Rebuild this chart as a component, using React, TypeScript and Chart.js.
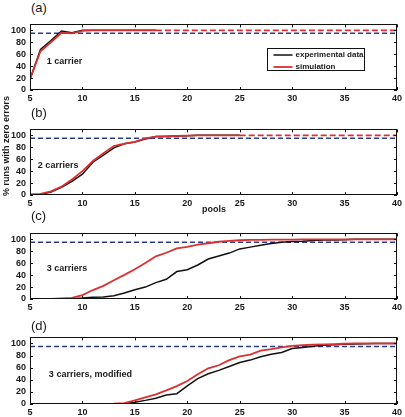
import React, { useEffect, useRef } from "react";
import { Chart, registerables } from "chart.js";
Chart.register(...registerables);

// ---------- data ----------
const pools = [5, 6, 7, 8, 9, 10, 11, 12, 13, 14, 15, 16, 17, 18, 19, 20, 21, 22, 23, 24, 25, 26, 27, 28, 29, 30, 31, 32, 33, 34, 35, 36, 37, 38, 39, 40];
const xTicks = [5, 10, 15, 20, 25, 30, 35, 40];
const yTicks = [0, 20, 40, 60, 80, 100];
const threshold = 95;
const legendLabels = ["experimental data", "simulation"];
const panelLetters = ["(a)", "(b)", "(c)", "(d)"];
const panelNotes = ["1 carrier", "2 carriers", "3 carriers", "3 carriers, modified"];
const yTitle = "% runs with zero errors";
const xTitle = "pools";

// (a) 1 carrier
const expA = [18, 68, 83, 99, 96, 100, 100, 100, 100, 100, 100, 100, 100];
const simA = [18, 65, 80, 96, 95, 99, 100, 100, 100, 100, 100, 100, 100, 100, 100, 100, 100, 100, 100, 100, 100, 100, 100, 100, 100, 100, 100, 100, 100, 100, 100, 100, 100, 100, 100, 100];
// (b) 2 carriers
const expB = [0, 1, 5, 13, 23, 35, 55, 67, 79, 86, 89, 94, 98, 98.5, 99, 99.5, 100, 100, 100, 100, 100];
const simB = [1, 2, 6, 14, 26, 40, 57, 70, 82, 86, 89, 95, 98, 98, 99, 99.5, 100, 100, 100, 100, 100, 100, 100, 100, 100, 100, 100, 100, 100, 100, 100, 100, 100, 100, 100, 100];
// (c) 3 carriers
const expC = [0, 0, 0, 0, 0.5, 1.5, 3, 3.5, 5.5, 10, 15.5, 20, 27.5, 33, 46, 49, 57, 67, 72, 77, 84, 87, 90, 93, 95, 96.5, 97, 98, 99, 99, 99.5, 100, 100, 100, 100, 100];
const simC = [0, 0, 0, 1, 2, 6.5, 15, 22, 31.5, 40.5, 50, 60.5, 71.5, 77.5, 85, 87.5, 91, 93.5, 96, 97.5, 98.5, 99, 99, 99.5, 99.5, 99.5, 100, 100, 100, 100, 100, 100, 100, 100, 100, 100];
// (d) 3 carriers, modified
const expD = [0, 0, 0, 0, 0, 0, 0, 0, 0, 0.5, 3, 6, 9.5, 15, 17, 30, 42, 50, 55.5, 62, 68.5, 72.5, 78, 82, 85, 91.5, 93.5, 95.5, 97, 98, 98.5, 99, 99.5, 100, 100, 100];
const simD = [0, 0, 0, 0, 0, 0, 0, 0, 0.5, 1.5, 6, 11, 16, 22.5, 29.5, 38, 49, 59, 64, 72.5, 78.5, 81.5, 88, 90.5, 93.5, 96, 97, 98, 98.5, 99, 99.5, 100, 100, 100, 100, 100];

// ---------- styles ----------
const RED = "#dc3030";
const BLACK = "#111111";
const BLUE = "#2b3c96";
const FONT = '"Liberation Sans", Arial, Helvetica, sans-serif';
const TXT = "#1a1a1a";

type PanelCfg = {
  idx: number;
  exp: number[];
  sim: number[];
  dashFrom: number | null;
  legend: boolean;
  noteX: number;
  noteY: number;
  plotTop: number;
  plotBottom: number;
};

const panels: PanelCfg[] = [
  { idx: 0, exp: expA, sim: simA, dashFrom: 17, legend: true, noteX: 6.6, noteY: 48.5, plotTop: 17, plotBottom: 90 },
  { idx: 1, exp: expB, sim: simB, dashFrom: 25, legend: false, noteX: 5.75, noteY: 49.5, plotTop: 122, plotBottom: 195 },
  { idx: 2, exp: expC, sim: simC, dashFrom: null, legend: false, noteX: 6.6, noteY: 51.5, plotTop: 226, plotBottom: 299 },
  { idx: 3, exp: expD, sim: simD, dashFrom: null, legend: false, noteX: 6.8, noteY: 49, plotTop: 330, plotBottom: 404 },
];

const PAD_TOP = 2;
const XAXIS_H = 14;

function framePlugin(cfg: PanelCfg) {
  return {
    id: "frame" + cfg.idx,
    afterDatasetsDraw(chart: any) {
      const { ctx, chartArea: a, scales } = chart;
      ctx.save();
      ctx.strokeStyle = BLACK;
      ctx.lineWidth = 1;
      ctx.setLineDash([]);
      ctx.strokeRect(Math.round(a.left) + 0.5, Math.round(a.top) + 0.5, Math.round(a.right - a.left) - 1, Math.round(a.bottom - a.top) - 1);
      const line = (x1: number, y1: number, x2: number, y2: number) => {
        ctx.beginPath();
        ctx.moveTo(x1, y1);
        ctx.lineTo(x2, y2);
        ctx.stroke();
      };
      xTicks.forEach((v) => {
        const px = Math.round(scales.x.getPixelForValue(v)) + 0.5;
        line(px, a.bottom, px, a.bottom - 3);
        line(px, a.top, px, a.top + 3);
      });
      yTicks.forEach((v) => {
        const py = Math.round(scales.y.getPixelForValue(v)) + 0.5;
        line(a.left, py, a.left + 3, py);
        line(a.right, py, a.right - 3, py);
      });
      // annotation
      ctx.font = "bold 9px " + FONT;
      ctx.fillStyle = TXT;
      ctx.textBaseline = "middle";
      ctx.textAlign = "left";
      ctx.fillText(panelNotes[cfg.idx], scales.x.getPixelForValue(cfg.noteX), scales.y.getPixelForValue(cfg.noteY));
      // legend
      if (cfg.legend) {
        const l = Math.round(scales.x.getPixelForValue(27.6)) + 0.5;
        const r = Math.round(scales.x.getPixelForValue(36.85)) + 0.5;
        const t = Math.round(scales.y.getPixelForValue(71)) + 0.5;
        const b = Math.round(scales.y.getPixelForValue(33)) + 0.5;
        ctx.fillStyle = "#ffffff";
        ctx.fillRect(l, t, r - l, b - t);
        ctx.strokeStyle = BLACK;
        ctx.lineWidth = 1;
        ctx.strokeRect(l, t, r - l, b - t);
        const items = [
          { label: legendLabels[0], color: BLACK, w: 1.5 },
          { label: legendLabels[1], color: RED, w: 1.8 },
        ];
        ctx.font = "bold 8px " + FONT;
        items.forEach((it, i) => {
          const y = t + 6.5 + i * 12;
          ctx.strokeStyle = it.color;
          ctx.lineWidth = it.w;
          line(l + 6, y, l + 25, y);
          ctx.fillStyle = TXT;
          ctx.fillText(it.label, l + 28, y);
        });
      }
      ctx.restore();
    },
  };
}

function Panel({ cfg }: { cfg: PanelCfg }) {
  const ref = useRef<HTMLCanvasElement>(null);
  const height = PAD_TOP + (cfg.plotBottom - cfg.plotTop) + XAXIS_H;
  useEffect(() => {
    const tickFont = { family: FONT, size: 9, weight: "bold" as const };
    const chart = new Chart(ref.current!, {
      type: "line",
      data: {
        datasets: [
          {
            label: legendLabels[1],
            data: cfg.sim.map((v, i) => ({ x: pools[i], y: v })),
            borderColor: RED,
            borderWidth: 1.8,
            pointRadius: 0,
            fill: false,
            order: 0,
            segment: {
              borderDash: (c: any) => (cfg.dashFrom !== null && c.p0.parsed.x >= cfg.dashFrom ? [6, 3] : undefined),
            },
          } as any,
          {
            label: legendLabels[0],
            data: cfg.exp.map((v, i) => ({ x: pools[i], y: v })),
            borderColor: BLACK,
            borderWidth: 1.5,
            pointRadius: 0,
            fill: false,
            order: 1,
          },
          {
            label: "threshold",
            data: [
              { x: pools[0], y: threshold },
              { x: pools[pools.length - 1], y: threshold },
            ],
            borderColor: BLUE,
            borderWidth: 1.5,
            borderDash: [5, 3],
            pointRadius: 0,
            fill: false,
            order: 2,
          },
        ],
      },
      options: {
        responsive: false,
        animation: false,
        events: [],
        layout: { padding: { top: PAD_TOP, right: 7, left: 0, bottom: 0 } },
        plugins: { legend: { display: false }, tooltip: { enabled: false } },
        scales: {
          x: {
            type: "linear",
            min: 5,
            max: 40,
            afterBuildTicks: (s: any) => {
              s.ticks = xTicks.map((v) => ({ value: v }));
            },
            afterFit: (s: any) => {
              s.height = XAXIS_H;
            },
            grid: { display: false, drawTicks: false },
            border: { display: false },
            ticks: { padding: 3, font: tickFont, color: TXT, maxRotation: 0, autoSkip: false },
          },
          y: {
            type: "linear",
            min: 0,
            max: 110,
            afterBuildTicks: (s: any) => {
              s.ticks = yTicks.map((v) => ({ value: v }));
            },
            afterFit: (s: any) => {
              s.width = 30;
            },
            grid: { display: false, drawTicks: false },
            border: { display: false },
            ticks: { padding: 4, font: tickFont, color: TXT, autoSkip: false },
          },
        },
      } as any,
      plugins: [framePlugin(cfg)],
    });
    return () => chart.destroy();
  }, []);
  return (
    <canvas
      ref={ref}
      width={405}
      height={height}
      style={{ position: "absolute", left: 0, top: cfg.plotTop - PAD_TOP, width: 405, height }}
    />
  );
}

const letterTops = [0.5, 105.5, 208.5, 318.5];

export default function App() {
  return (
    <div style={{ position: "absolute", left: 0, top: 0, width: 405, height: 417, background: "#fff", overflow: "hidden" }}>
      {panels.map((p) => (
        <Panel key={p.idx} cfg={p} />
      ))}
      {panelLetters.map((t, i) => (
        <div
          key={t}
          style={{ position: "absolute", left: 31, top: letterTops[i], font: "13px " + FONT, lineHeight: "13px", color: TXT }}
        >
          {t}
        </div>
      ))}
      <div
        style={{
          position: "absolute",
          left: 194,
          top: 203,
          width: 40,
          textAlign: "center",
          font: "bold 9px " + FONT,
          lineHeight: "12px",
          color: TXT,
        }}
      >
        {xTitle}
      </div>
      <div
        style={{
          position: "absolute",
          left: 6 - 70,
          top: 146 - 6,
          width: 140,
          height: 12,
          textAlign: "center",
          font: "bold 9px " + FONT,
          lineHeight: "12px",
          color: TXT,
          transform: "rotate(-90deg)",
          whiteSpace: "nowrap",
        }}
      >
        {yTitle}
      </div>
    </div>
  );
}
